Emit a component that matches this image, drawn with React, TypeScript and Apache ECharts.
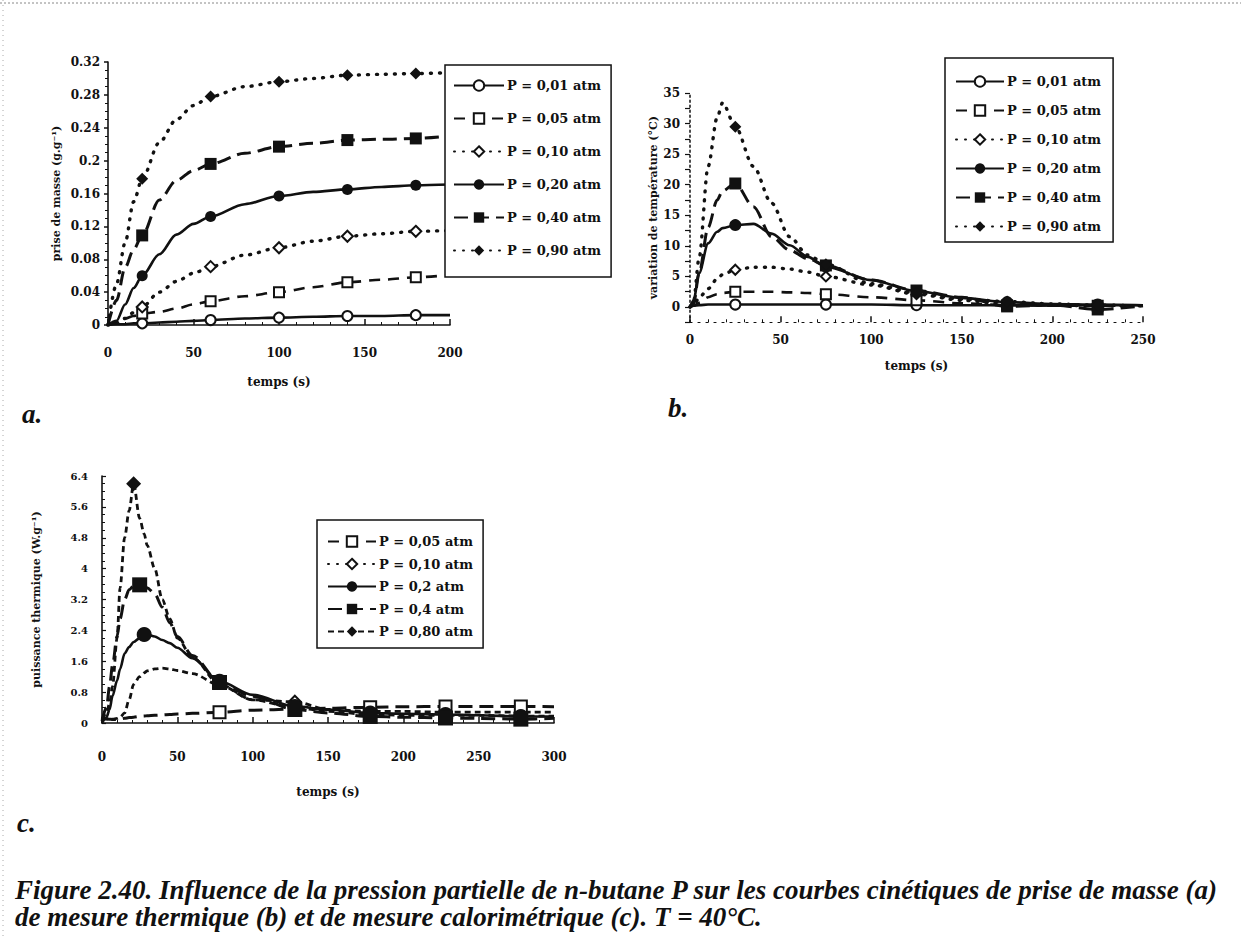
import React, { useEffect, useRef } from "react";
import * as echarts from "echarts";

// ---------- Panel a : prise de masse ----------
const A_X = [0, 5, 10, 15, 20, 30, 40, 50, 60, 80, 100, 120, 140, 160, 180, 200];
const A_MARKERS = [20, 60, 100, 140, 180];
const A_P001 = [0, 0.001, 0.001, 0.002, 0.002, 0.003, 0.004, 0.005, 0.006, 0.008, 0.009, 0.010, 0.011, 0.011, 0.012, 0.012];
const A_P005 = [0, 0.003, 0.008, 0.011, 0.014, 0.016, 0.020, 0.025, 0.029, 0.035, 0.040, 0.046, 0.052, 0.055, 0.058, 0.061];
const A_P010 = [0, 0.002, 0.008, 0.015, 0.022, 0.040, 0.053, 0.063, 0.071, 0.085, 0.094, 0.102, 0.108, 0.111, 0.114, 0.115];
const A_P020 = [0, 0.005, 0.025, 0.045, 0.060, 0.086, 0.110, 0.123, 0.132, 0.147, 0.157, 0.162, 0.165, 0.168, 0.170, 0.171];
const A_P040 = [0, 0.030, 0.070, 0.092, 0.109, 0.152, 0.176, 0.188, 0.196, 0.209, 0.217, 0.221, 0.225, 0.226, 0.227, 0.230];
const A_P090 = [0, 0.050, 0.100, 0.150, 0.178, 0.222, 0.250, 0.267, 0.278, 0.290, 0.296, 0.300, 0.304, 0.305, 0.306, 0.307];
const A_Y_TICKS = [0, 0.04, 0.08, 0.12, 0.16, 0.2, 0.24, 0.28, 0.32];

// ---------- Panel b : variation de température ----------
const B_X = [0, 2, 5, 10, 15, 18, 25, 35, 45, 55, 65, 75, 100, 125, 150, 175, 200, 225, 250];
const B_MARKERS = [25, 75, 125, 175, 225];
const B_P001 = [0, 0.2, 0.3, 0.4, 0.4, 0.4, 0.4, 0.4, 0.4, 0.4, 0.4, 0.4, 0.4, 0.3, 0.3, 0.3, 0.3, 0.3, 0.3];
const B_P005 = [0, 0.2, 0.7, 1.6, 2.1, 2.3, 2.5, 2.5, 2.5, 2.4, 2.3, 2.1, 1.6, 1.1, 0.6, 0.3, 0.2, 0.2, 0.2];
const B_P010 = [0, 0.3, 1.5, 3.0, 4.6, 5.3, 6.1, 6.5, 6.5, 6.2, 5.7, 5.0, 3.6, 2.1, 1.1, 0.5, 0.3, 0.2, 0.2];
const B_P020 = [0, 1.1, 5.5, 10.4, 12.3, 12.9, 13.4, 13.6, 12.0, 10.1, 8.2, 6.6, 4.4, 2.6, 1.5, 0.8, 0.5, 0.4, 0.3];
const B_P040 = [0, 0.5, 5.5, 13.0, 17.5, 19.0, 20.2, 16.4, 11.5, 9.3, 7.9, 6.8, 4.4, 2.7, 1.6, 0.1, 0.3, -0.4, 0.2];
const B_P090 = [0, 1.0, 8.0, 23.0, 31.0, 33.4, 29.5, 23.0, 17.0, 11.5, 8.5, 7.0, 3.8, 2.3, 1.3, 0.9, 0.5, 0.3, 0.2];

// ---------- Panel c : puissance thermique ----------
const C_X = [0, 3, 5, 7, 10, 12, 15, 18, 21, 25, 28, 30, 35, 40, 45, 50, 60, 78, 100, 128, 150, 178, 200, 228, 250, 278, 300];
const C_P005 = [0.13, 0.11, 0.10, 0.09, 0.09, 0.10, 0.12, 0.14, 0.15, 0.17, 0.18, 0.19, 0.20, 0.21, 0.22, 0.23, 0.25, 0.28, 0.33, 0.36, 0.38, 0.41, 0.42, 0.43, 0.43, 0.43, 0.42];
const C_P010 = [0.10, 0.10, 0.10, 0.10, 0.12, 0.15, 0.26, 0.60, 1.00, 1.20, 1.30, 1.35, 1.40, 1.42, 1.40, 1.36, 1.28, 0.98, 0.60, 0.55, 0.35, 0.30, 0.30, 0.28, 0.28, 0.28, 0.28];
const C_P02 = [0, 0.15, 0.35, 0.70, 1.10, 1.40, 1.80, 1.97, 2.10, 2.20, 2.29, 2.29, 2.24, 2.15, 2.07, 1.95, 1.68, 1.08, 0.73, 0.43, 0.35, 0.26, 0.24, 0.22, 0.20, 0.17, 0.17];
const C_P04 = [0.05, 0.40, 0.95, 1.50, 2.24, 2.70, 3.20, 3.45, 3.55, 3.58, 3.55, 3.50, 3.35, 3.00, 2.60, 2.24, 1.75, 1.05, 0.69, 0.35, 0.26, 0.17, 0.15, 0.13, 0.12, 0.10, 0.12];
const C_P080 = [0.10, 0.26, 0.50, 0.95, 2.20, 3.50, 4.80, 5.50, 6.20, 5.30, 4.90, 4.60, 4.00, 3.20, 2.70, 2.20, 1.70, 1.00, 0.60, 0.40, 0.30, 0.22, 0.20, 0.20, 0.20, 0.18, 0.18];
const C_M005 = [78, 178, 228, 278];
const C_M010 = [128];
const C_M02 = [28, 78, 128, 178, 228, 278];
const C_M04 = [25, 78, 128, 178, 228, 278];
const C_M080 = [21];

const NAMES_AB = ["P = 0,01 atm", "P = 0,05 atm", "P = 0,10 atm", "P = 0,20 atm", "P = 0,40 atm", "P = 0,90 atm"];
const NAMES_C = ["P = 0,05 atm", "P = 0,10 atm", "P = 0,2 atm", "P = 0,4 atm", "P = 0,80 atm"];

const CAPTION_1 = "Figure 2.40. Influence de la pression partielle de n-butane P sur les courbes cinétiques de prise de masse (a)";
const CAPTION_2 = "de mesure thermique (b) et de mesure calorimétrique (c). T = 40°C.";

const FONT = "DejaVu Serif";
const BLACK = "#111";
const ITALIC = "bold italic 27px 'Liberation Serif'";

function pts(xs: number[], ys: number[], markers: number[]) {
  return xs.map((x, i) =>
    markers.indexOf(x) >= 0 ? { value: [x, ys[i]] } : { value: [x, ys[i]], symbol: "none" }
  );
}

const DOT = { type: [1, 8], width: 3.4, cap: "round" };
const DASH_L = { type: [14, 7], width: 3 };
const DASH_M = { type: [11, 8], width: 2.6 };
const DASH_S = { type: [6, 4], width: 2.8 };
const SOLID = { type: "solid", width: 2.6 };

function line(name: string, grid: number, data: any[], symbol: string, size: number, ls: any) {
  return {
    type: "line",
    name,
    xAxisIndex: grid,
    yAxisIndex: grid,
    data,
    symbol,
    symbolSize: size,
    showSymbol: true,
    smooth: 0.3,
    smoothMonotone: "x",
    color: BLACK,
    itemStyle: { color: BLACK, borderWidth: 1.6 },
    lineStyle: { color: BLACK, ...ls },
    emphasis: { disabled: true },
  };
}

function xAxis(grid: number, max: number, margin: number, gap: number, axLine: any) {
  return {
    type: "value",
    gridIndex: grid,
    min: 0,
    max,
    interval: 50,
    name: "temps (s)",
    nameLocation: "middle",
    nameGap: gap,
    nameTextStyle: { fontFamily: FONT, fontWeight: "bold", fontSize: 12, color: BLACK },
    axisLine: { show: true, onZero: false, lineStyle: { color: BLACK, ...axLine } },
    axisTick: { show: true, inside: true, length: 6, lineStyle: { color: BLACK, width: 1.5 } },
    minorTick: { show: true, splitNumber: 5, length: 3, lineStyle: { color: BLACK } },
    axisLabel: { margin, fontFamily: FONT, fontWeight: "bold", fontSize: 12, color: BLACK },
    splitLine: { show: false },
  };
}

function legend(left: number, top: number, names: string[], gap: number, iw: number, pad: number[]) {
  return {
    orient: "vertical",
    left,
    top,
    data: names,
    itemWidth: iw,
    itemHeight: 13,
    itemGap: gap,
    padding: pad,
    borderColor: BLACK,
    borderWidth: 1.5,
    backgroundColor: "#fff",
    selectedMode: false,
    textStyle: { fontFamily: FONT, fontWeight: "bold", fontSize: 13, color: BLACK, padding: [0, 0, 0, -2] },
  };
}

export default function App() {
  const ref = useRef<HTMLDivElement>(null);
  useEffect(() => {
    if (!ref.current) return;
    const chart = echarts.init(ref.current, null, { renderer: "svg" });
    const series = [
      line(NAMES_AB[0], 0, pts(A_X, A_P001, A_MARKERS), "emptyCircle", 10, SOLID),
      line(NAMES_AB[1], 0, pts(A_X, A_P005, A_MARKERS), "emptyRect", 10, DASH_M),
      line(NAMES_AB[2], 0, pts(A_X, A_P010, A_MARKERS), "emptyDiamond", 11, DOT),
      line(NAMES_AB[3], 0, pts(A_X, A_P020, A_MARKERS), "circle", 11, SOLID),
      line(NAMES_AB[4], 0, pts(A_X, A_P040, A_MARKERS), "rect", 12, DASH_L),
      line(NAMES_AB[5], 0, pts(A_X, A_P090, A_MARKERS), "diamond", 12, DOT),

      line(NAMES_AB[0], 1, pts(B_X, B_P001, B_MARKERS), "emptyCircle", 10, SOLID),
      line(NAMES_AB[1], 1, pts(B_X, B_P005, B_MARKERS), "emptyRect", 10, DASH_M),
      line(NAMES_AB[2], 1, pts(B_X, B_P010, B_MARKERS), "emptyDiamond", 10, DOT),
      line(NAMES_AB[3], 1, pts(B_X, B_P020, B_MARKERS), "circle", 12, SOLID),
      line(NAMES_AB[4], 1, pts(B_X, B_P040, B_MARKERS), "rect", 12, DASH_L),
      line(NAMES_AB[5], 1, pts(B_X, B_P090, B_MARKERS), "diamond", 12, DOT),

      line(NAMES_C[0], 2, pts(C_X, C_P005, C_M005), "emptyRect", 12, DASH_L),
      line(NAMES_C[1], 2, pts(C_X, C_P010, C_M010), "emptyDiamond", 12, DASH_S),
      line(NAMES_C[2], 2, pts(C_X, C_P02, C_M02), "circle", 15, SOLID),
      line(NAMES_C[3], 2, pts(C_X, C_P04, C_M04), "rect", 15, DASH_L),
      line(NAMES_C[4], 2, pts(C_X, C_P080, C_M080), "diamond", 15, DASH_S),
    ];

    const option: any = {
      animation: false,
      backgroundColor: "#fff",
      grid: [
        { left: 108, top: 62, width: 342, height: 263 },
        { left: 690, top: 93, width: 453, height: 229.3 },
        { left: 102, top: 476, width: 452, height: 247 },
      ],
      xAxis: [
        xAxis(0, 200, 22, 51, { width: 1.6 }),
        xAxis(1, 250, 12, 38, { width: 1.2, type: [2, 6] }),
        xAxis(2, 300, 28, 63, { width: 1.6 }),
      ],
      yAxis: [
        {
          type: "value",
          gridIndex: 0,
          min: 0,
          max: A_Y_TICKS[A_Y_TICKS.length - 1],
          interval: A_Y_TICKS[1],
          name: "prise de masse (g.g⁻¹)",
          nameLocation: "middle",
          nameGap: 46,
          nameTextStyle: { fontFamily: FONT, fontWeight: "bold", fontSize: 11, color: BLACK },
          axisLine: { show: true, lineStyle: { color: BLACK, width: 1.6 } },
          axisTick: { show: true, length: 4, lineStyle: { color: BLACK, width: 1.5 } },
          minorTick: { show: true, splitNumber: 4, length: 3, lineStyle: { color: BLACK } },
          axisLabel: { margin: 8, fontFamily: FONT, fontWeight: "bold", fontSize: 12, color: BLACK },
          splitLine: { show: false },
        },
        {
          type: "value",
          gridIndex: 1,
          min: -2.5,
          max: 35,
          interval: 2.5,
          name: "variation de température (°C)",
          nameLocation: "middle",
          nameGap: 31,
          nameTextStyle: { fontFamily: FONT, fontWeight: "bold", fontSize: 11, color: BLACK },
          axisLine: { show: true, lineStyle: { color: BLACK, width: 1.5, type: [2, 3] } },
          axisTick: { show: true, inside: false, length: 5, lineStyle: { color: BLACK, width: 1.2 } },
          axisLabel: {
            margin: 10,
            fontFamily: FONT,
            fontWeight: "bold",
            fontSize: 12,
            color: BLACK,
            formatter: (v: number) => (v >= 0 && Math.abs(v % 5) < 1e-6 ? String(v) : ""),
          },
          splitLine: { show: false },
        },
        {
          type: "value",
          gridIndex: 2,
          min: 0,
          max: 6.4,
          interval: 0.8,
          name: "puissance thermique (W.g⁻¹)",
          nameLocation: "middle",
          nameGap: 60,
          nameTextStyle: { fontFamily: FONT, fontWeight: "bold", fontSize: 11, color: BLACK },
          axisLine: { show: true, lineStyle: { color: BLACK, width: 1.6 } },
          axisTick: { show: true, inside: true, length: 4, lineStyle: { color: BLACK, width: 1.2 } },
          minorTick: { show: true, splitNumber: 4, length: 3, lineStyle: { color: BLACK } },
          axisLabel: { margin: 14, fontFamily: FONT, fontWeight: "bold", fontSize: 10, color: BLACK },
          splitLine: { show: false },
        },
      ],
      legend: [
        legend(445, 65, NAMES_AB, 20, 50, [14, 10, 20, 8]),
        legend(945, 58, NAMES_AB, 16, 48, [17, 12, 9, 10]),
        legend(317, 520, NAMES_C, 9.5, 48, [15, 10, 10, 10]),
      ],
      series,
      graphic: [
        { type: "line", shape: { x1: 0, y1: 3, x2: 1241, y2: 3 }, style: { stroke: "#888", lineWidth: 1, lineDash: [2, 2] } },
        { type: "line", shape: { x1: 3, y1: 0, x2: 3, y2: 936 }, style: { stroke: "#aaa", lineWidth: 1, lineDash: [1, 4] } },
        { type: "text", x: 22, y: 414, style: { text: "a.", font: ITALIC, fill: BLACK, verticalAlign: "middle" } },
        { type: "text", x: 668, y: 408, style: { text: "b.", font: ITALIC, fill: BLACK, verticalAlign: "middle" } },
        { type: "text", x: 17, y: 823, style: { text: "c.", font: ITALIC, fill: BLACK, verticalAlign: "middle" } },
        { type: "text", x: 15, y: 890, style: { text: CAPTION_1, font: ITALIC, fill: BLACK, verticalAlign: "middle" } },
        { type: "text", x: 15, y: 917, style: { text: CAPTION_2, font: ITALIC, fill: BLACK, verticalAlign: "middle" } },
      ],
    };
    chart.setOption(option);
    return () => chart.dispose();
  }, []);
  return <div ref={ref} style={{ position: "fixed", left: 0, top: 0, width: 1241, height: 936, background: "#fff" }} />;
}
